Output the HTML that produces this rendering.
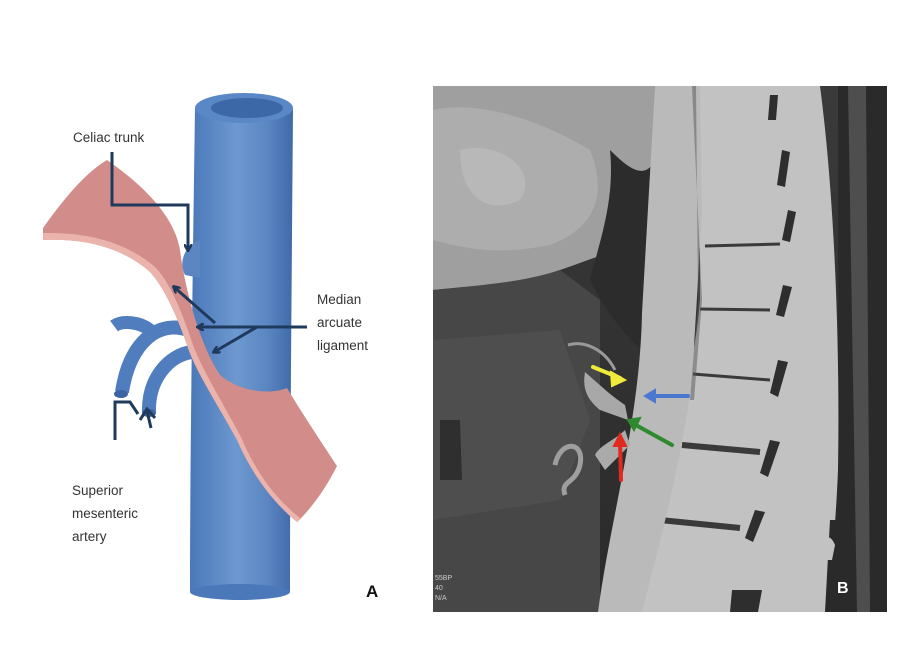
<!DOCTYPE html>
<html><head><meta charset="utf-8"><style>
html,body{margin:0;padding:0;background:#fff;}
svg{display:block}
text{font-family:"Liberation Sans",sans-serif;}
</style></head><body>
<svg width="921" height="672" viewBox="0 0 921 672" xmlns="http://www.w3.org/2000/svg">
<defs>
<linearGradient id="ao" x1="0" x2="1" y1="0" y2="0">
<stop offset="0" stop-color="#4a78b8"/><stop offset="0.45" stop-color="#6d98d0"/><stop offset="0.75" stop-color="#5b86c2"/><stop offset="1" stop-color="#3f6aa8"/>
</linearGradient>
<linearGradient id="ct" x1="0" x2="0" y1="0" y2="1">
<stop offset="0" stop-color="#3a3a3a"/><stop offset="1" stop-color="#2a2a2a"/>
</linearGradient>
<marker id="ah" markerWidth="8" markerHeight="8" refX="6" refY="4" orient="auto" markerUnits="userSpaceOnUse">
<path d="M0,0 L7,4 L0,8" fill="none" stroke="#1f3a5c" stroke-width="2.5"/>
</marker>
</defs>

<!-- Aorta -->
<path d="M195,108 L293,108 C292,250 290,450 290,592 L190,592 C190,450 193,250 195,108 Z" fill="url(#ao)"/>
<ellipse cx="244" cy="108" rx="49" ry="15" fill="#5a88c6"/>
<ellipse cx="247" cy="108" rx="36" ry="10" fill="#3c68a8"/>
<ellipse cx="240" cy="592" rx="50" ry="8" fill="#4a78b8"/>
<!-- celiac stub -->
<path d="M200,240 C185,245 178,262 185,275 L200,278 Z" fill="#5b86c2"/>
<!-- SMA branches -->
<g fill="none" stroke="#4f7dbd" stroke-linecap="butt">
<path d="M188,330 C160,320 130,340 122,392" stroke-width="14"/>
<path d="M192,352 C168,355 148,380 149,412" stroke-width="14"/>
<path d="M150,330 C140,322 122,320 114,326" stroke-width="13"/>
</g>
<ellipse cx="121" cy="394" rx="7" ry="4" fill="#3a64a2"/>
<ellipse cx="149" cy="413" rx="7" ry="4" fill="#3a64a2"/>

<!-- Ligament -->
<path d="M43,228 C70,190 90,170 107,160 C150,190 175,220 180,250 C185,290 200,345 220,375 C240,392 270,395 287,388 C300,410 320,440 337,466 C325,490 310,510 297,522 C270,500 250,470 237,440 C215,400 195,370 187,345 C175,310 162,285 150,272 C125,250 90,238 43,240 Z" fill="#d28c8a"/>
<path d="M43,240 C90,238 125,250 150,272 C162,285 175,310 187,345 C195,370 215,400 237,440 C250,470 270,500 297,522 L300,518 C272,496 253,466 241,437 C220,398 200,366 192,342 C180,306 168,280 155,267 C128,244 92,232 43,233 Z" fill="#eab4ad"/>

<!-- Celiac arrow -->
<polyline points="112,152 112,205 188,205 188,250" fill="none" stroke="#1f3a5c" stroke-width="3" marker-end="url(#ah)"/>
<!-- Median arrows -->
<polyline points="307,327 198,327" fill="none" stroke="#1f3a5c" stroke-width="3" marker-end="url(#ah)"/>
<polyline points="215,323 174,287" fill="none" stroke="#1f3a5c" stroke-width="3" marker-end="url(#ah)"/>
<polyline points="257,327 214,352" fill="none" stroke="#1f3a5c" stroke-width="3" marker-end="url(#ah)"/>
<!-- SMA arrow -->
<polyline points="115,440 115,402 130,402 138,414" fill="none" stroke="#1f3a5c" stroke-width="3"/>
<line x1="151" y1="428" x2="147" y2="411" stroke="#1f3a5c" stroke-width="3"/>
<path d="M140,420 L147,409 L155,418" fill="none" stroke="#1f3a5c" stroke-width="3"/>

<text x="73" y="142" font-size="13.5" fill="#333">Celiac trunk</text>
<text x="317" y="304" font-size="13.5" fill="#333">Median</text>
<text x="317" y="327" font-size="13.5" fill="#333">arcuate</text>
<text x="317" y="350" font-size="13.5" fill="#333">ligament</text>
<text x="72" y="495" font-size="13.5" fill="#333">Superior</text>
<text x="72" y="518" font-size="13.5" fill="#333">mesenteric</text>
<text x="72" y="541" font-size="13.5" fill="#333">artery</text>
<text x="366" y="597" font-size="17" font-weight="bold" fill="#111">A</text>

<!-- CT panel -->
<rect x="433" y="86" width="454" height="526" fill="url(#ct)"/>
<path d="M433,86 L655,86 L650,250 C620,245 590,260 560,270 C520,285 480,285 433,290 Z" fill="#9f9f9f"/>
<path d="M433,110 C480,100 540,120 590,150 C610,200 590,230 550,245 C500,255 470,250 433,240 Z" fill="#b4b4b4" opacity="0.7"/>
<path d="M460,150 C500,140 540,170 520,200 C490,215 460,200 460,150 Z" fill="#c4c4c4" opacity="0.5"/>
<path d="M610,150 C630,170 645,180 655,160 L652,360 C630,340 610,320 590,280 C600,240 615,200 610,150 Z" fill="#2c2c2c"/>
<path d="M433,290 C480,285 520,283 560,270 L600,300 L600,612 L433,612 Z" fill="#474747"/>
<path d="M433,340 L560,330 L590,420 L560,500 L433,520 Z" fill="#545454" opacity="0.6"/>
<path d="M440,420 L460,420 L462,480 L440,480 Z" fill="#222" opacity="0.7"/>
<!-- right back dark muscle -->
<rect x="838" y="86" width="49" height="526" fill="#2a2a2a"/>
<path d="M848,86 L866,86 L870,612 L857,612 Z" fill="#4e4e4e"/>
<!-- spine -->
<path d="M700,86 L820,86 C835,200 840,350 838,470 C835,540 830,580 825,612 L640,612 C645,500 690,420 700,300 Z" fill="#c2c2c2"/>
<g fill="#2e2e2e">
<path d="M770,95 l8,0 l-2,25 l-8,0 z"/>
<path d="M782,150 l8,2 l-5,35 l-8,-2 z"/>
<path d="M788,210 l8,2 l-6,30 l-8,-2 z"/>
<path d="M783,285 l9,2 l-8,30 l-8,-2 z"/>
<path d="M778,360 l10,2 l-10,35 l-8,-4 z"/>
<path d="M770,440 l10,2 l-12,35 l-8,-4 z"/>
<path d="M755,510 l10,2 l-12,30 l-8,-4 z"/>
</g>
<g stroke="#3a3a3a" stroke-width="3">
<line x1="705" y1="246" x2="780" y2="244"/>
<line x1="700" y1="309" x2="770" y2="310"/>
<line x1="693" y1="374" x2="770" y2="380"/>
<line x1="682" y1="445" x2="760" y2="452" stroke-width="6"/>
<line x1="660" y1="520" x2="740" y2="528" stroke-width="6"/>
</g>
<path d="M830,520 L838,520 L838,612 L825,612 Z" fill="#2a2a2a"/>
<path d="M820,540 q10,-8 15,5 l-3,15 l-14,0 z" fill="#c2c2c2"/>
<path d="M732,590 l30,0 l-4,22 l-28,0 z" fill="#2e2e2e"/>
<!-- aorta in CT -->
<path d="M655,86 L700,86 L702,213 L692,380 C680,470 660,540 642,612 L598,612 C610,520 640,420 642,313 Z" fill="#bababa"/>
<path d="M692,86 L696,86 L698,300 L690,400 L694,400 L702,300 Z" fill="#555" opacity="0.5"/>
<!-- vessels -->
<path d="M585,372 C600,385 610,395 625,405 L628,420 L600,410 C588,400 582,390 585,372 Z" fill="#a8a8a8"/>
<path d="M595,455 C600,445 615,440 625,430 L630,445 L605,470 Z" fill="#aaa"/>
<path d="M555,465 C560,440 585,440 580,465 C575,485 560,480 565,495" fill="none" stroke="#9e9e9e" stroke-width="5"/>
<path d="M568,345 C585,340 605,350 615,370" fill="none" stroke="#999" stroke-width="3"/>
<!-- colored arrows -->
<g stroke-width="4" fill="none" stroke-linecap="round">
<line x1="593" y1="367" x2="620" y2="378" stroke="#f0ea3a"/>
<path d="M611,372 L625,380 L612,386 Z" fill="#f0ea3a" stroke="#f0ea3a" stroke-width="2"/>
<line x1="688" y1="396" x2="652" y2="396" stroke="#4a78d0"/>
<path d="M655,390 L645,396 L655,402 Z" fill="#4a78d0" stroke="#4a78d0" stroke-width="2"/>
<line x1="672" y1="445" x2="634" y2="424" stroke="#2f8a2f"/>
<path d="M640,418 L628,420 L634,430 Z" fill="#2f8a2f" stroke="#2f8a2f" stroke-width="2"/>
<line x1="621" y1="480" x2="620" y2="442" stroke="#e02a20"/>
<path d="M614,446 L620,434 L626,446 Z" fill="#e02a20" stroke="#e02a20" stroke-width="2"/>
</g>
<text x="837" y="593" font-size="16" font-weight="bold" fill="#fff">B</text>
<text x="435" y="580" font-size="7" fill="#ccc">55BP</text>
<text x="435" y="590" font-size="7" fill="#ccc">40</text>
<text x="435" y="600" font-size="7" fill="#ccc">N/A</text>
</svg>
</body></html>
